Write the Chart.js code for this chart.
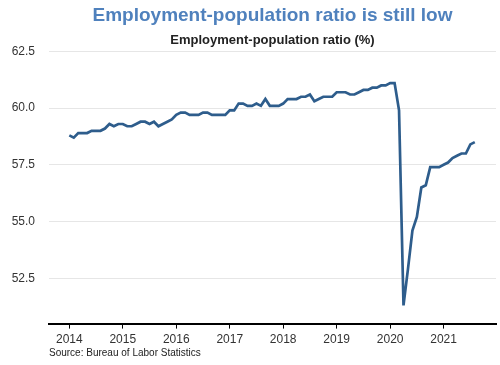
<!DOCTYPE html>
<html>
<head>
<meta charset="utf-8">
<script src="https://cdn.jsdelivr.net/npm/chart.js@4.4.0/dist/chart.umd.min.js"></script>
<style>
    html, body { margin: 0; padding: 0; background: #fff; }
    #wrap { width: 500px; height: 365px; }
</style>
</head>
<body>
<div id="wrap"><canvas id="chart"></canvas></div>
<script>
// monthly series, Jan 2014 onwards
const startYear = 2014;
const ratio2014 = [58.8, 58.7, 58.9, 58.9, 58.9, 59.0, 59.0, 59.0, 59.1, 59.3, 59.2, 59.3];
const ratio2015 = [59.3, 59.2, 59.2, 59.3, 59.4, 59.4, 59.3, 59.4, 59.2, 59.3, 59.4, 59.5];
const ratio2016 = [59.7, 59.8, 59.8, 59.7, 59.7, 59.7, 59.8, 59.8, 59.7, 59.7, 59.7, 59.7];
const ratio2017 = [59.9, 59.9, 60.2, 60.2, 60.1, 60.1, 60.2, 60.1, 60.4, 60.1, 60.1, 60.1];
const ratio2018 = [60.2, 60.4, 60.4, 60.4, 60.5, 60.5, 60.6, 60.3, 60.4, 60.5, 60.5, 60.5];
const ratio2019 = [60.7, 60.7, 60.7, 60.6, 60.6, 60.7, 60.8, 60.8, 60.9, 60.9, 61.0, 61.0];
const ratio2020 = [61.1, 61.1, 59.9, 51.3, 52.9, 54.6, 55.2, 56.5, 56.6, 57.4, 57.4, 57.4];
const ratio2021 = [57.5, 57.6, 57.8, 57.9, 58.0, 58.0, 58.4, 58.5];

const yearTicks = [2014, 2015, 2016, 2017, 2018, 2019, 2020, 2021];
const valueTicks = [52.5, 55.0, 57.5, 60.0, 62.5];

const chartTitle = "Employment-population ratio is still low";
const chartSubtitle = "Employment-population ratio (%)";
const sourceNote = "Source: Bureau of Labor Statistics";

const allValues = [].concat(ratio2014, ratio2015, ratio2016, ratio2017, ratio2018, ratio2019, ratio2020, ratio2021);
const points = allValues.map((v, i) => ({ x: startYear + i / 12, y: v }));

const sourcePlugin = {
    id: "sourceNote",
    afterDraw(chart) {
        const ctx = chart.ctx;
        ctx.save();
        ctx.font = "10px 'Liberation Sans', Arial, sans-serif";
        ctx.fillStyle = "#222";
        ctx.textBaseline = "middle";
        ctx.textAlign = "left";
        ctx.fillText(sourceNote, chart.chartArea.left, 353);
        ctx.restore();
    },
};

Chart.defaults.font.family = "'Liberation Sans', Arial, sans-serif";

new Chart(document.getElementById("chart"), {
    type: "line",
    data: {
        datasets: [
            {
                data: points,
                borderColor: "#2e5d8c",
                borderWidth: 2.7,
                pointRadius: 0,
                tension: 0,
                fill: false,
            },
        ],
    },
    options: {
        responsive: true,
        maintainAspectRatio: false,
        animation: false,
        layout: {
            padding: { left: 0, right: 4, top: 0, bottom: 14 },
        },
        plugins: {
            legend: { display: false },
            tooltip: { enabled: false },
            title: {
                display: true,
                text: chartTitle,
                fullSize: false,
                color: "#4f81bd",
                font: { size: 19, weight: "bold" },
                padding: { top: 4, bottom: 2 },
            },
            subtitle: {
                display: true,
                text: chartSubtitle,
                fullSize: false,
                color: "#222",
                font: { size: 13, weight: "bold" },
                padding: { top: 4, bottom: 3 },
            },
        },
        scales: {
            x: {
                type: "linear",
                min: 2013.62,
                max: 2021.98,
                afterBuildTicks: (scale) => {
                    scale.ticks = yearTicks.map((v) => ({ value: v }));
                },
                ticks: {
                    color: "#333",
                    font: { size: 12 },
                    padding: 4,
                    callback: (v) => String(v),
                },
                grid: {
                    drawOnChartArea: false,
                    drawTicks: true,
                    tickLength: 5,
                    color: "#000",
                },
                border: { color: "#000", width: 2 },
            },
            y: {
                min: 50.5,
                max: 62.5,
                afterBuildTicks: (scale) => {
                    scale.ticks = valueTicks.map((v) => ({ value: v }));
                },
                afterFit: (scale) => {
                    scale.width = 49;
                },
                ticks: {
                    color: "#333",
                    font: { size: 12 },
                    padding: 14,
                    callback: (v) => v.toFixed(1),
                },
                grid: {
                    color: "#e6e6e6",
                    drawTicks: false,
                },
                border: { display: false },
            },
        },
    },
    plugins: [sourcePlugin],
});
</script>
</body>
</html>
